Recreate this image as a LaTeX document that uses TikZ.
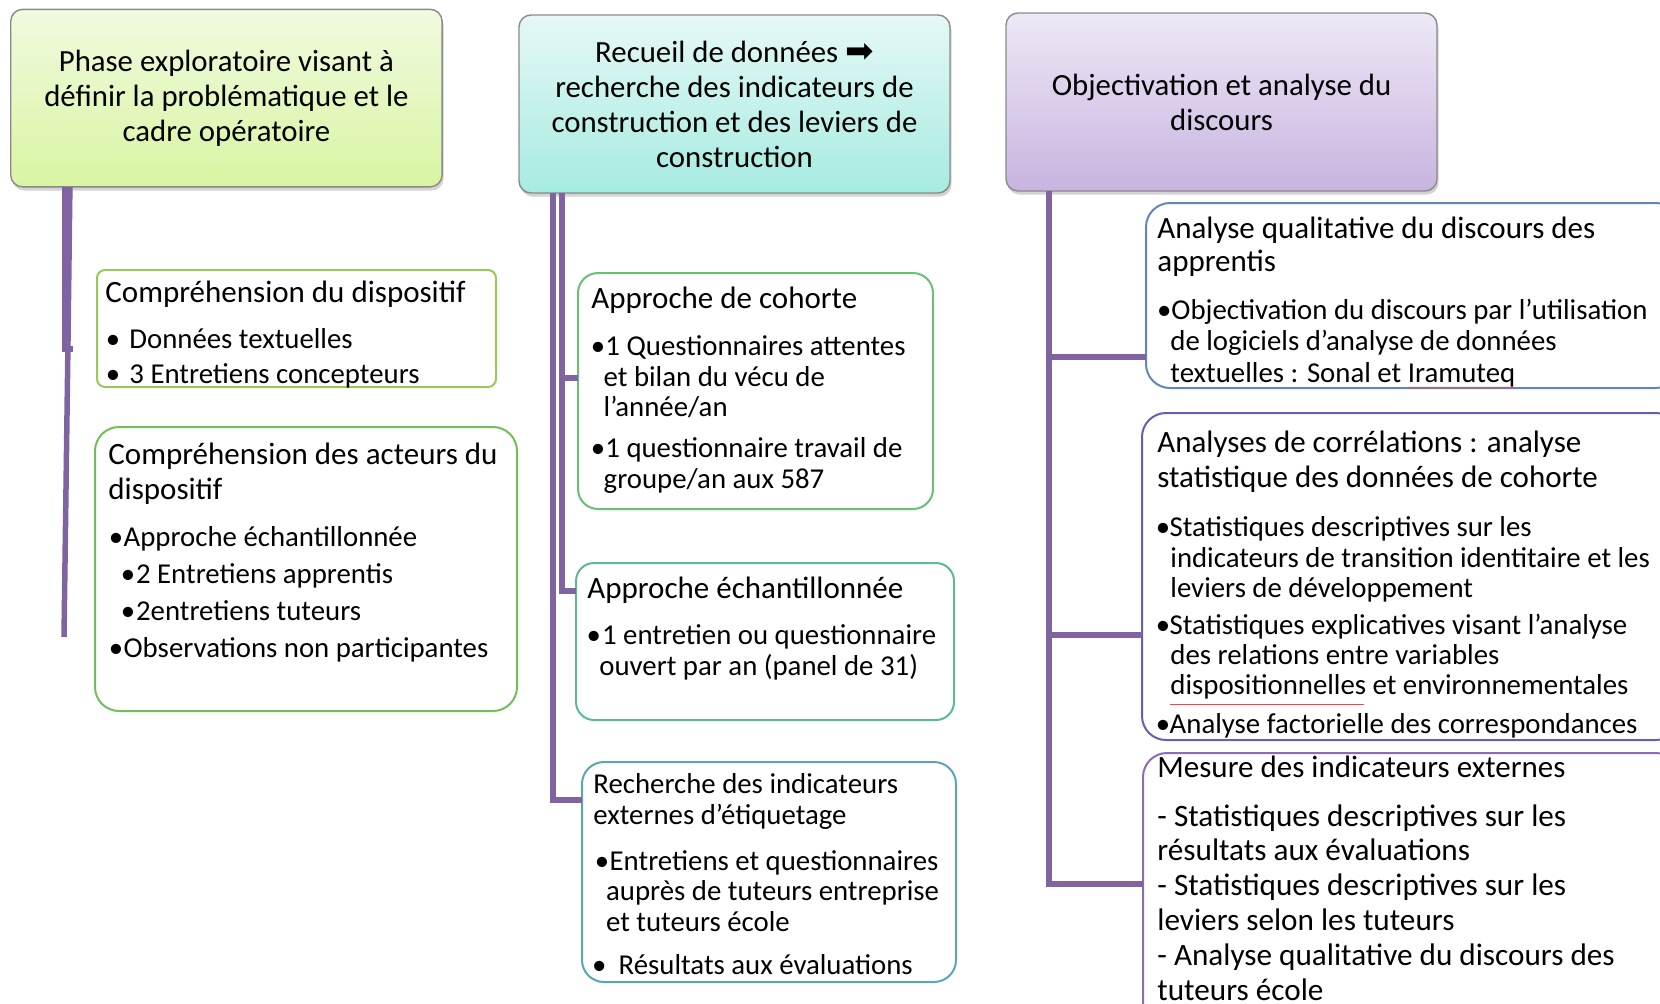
\documentclass[tikz,border=0pt]{standalone}
\usepackage{fontspec}
\setmainfont{Carlito}
\newfontfamily\symfont{DejaVu Sans}
\usetikzlibrary{shadows}

\definecolor{lienc}{HTML}{8064A2}
\definecolor{bordtete}{HTML}{8A8A8A}
\definecolor{vertA}{HTML}{9BC85A}
\definecolor{vertB}{HTML}{70BF5A}
\definecolor{vertC}{HTML}{6ABF74}
\definecolor{vertD}{HTML}{5CB89C}
\definecolor{bleuA}{HTML}{5AA7B2}
\definecolor{bleuB}{HTML}{6485BA}
\definecolor{violA}{HTML}{6A5DB0}
\definecolor{violB}{HTML}{8A6DB6}

\newcommand\puce[1]{\makebox[#1][l]{•}}

% les textes a plusieurs lignes sont poses sur la ligne de base de leur derniere ligne
\tikzset{
  tete/.style={draw=bordtete, line width=0.7pt, rounded corners=6pt,
    anchor=north west, inner sep=0pt, outer sep=0pt, align=center,
    font=\fontsize{15.4}{17.5}\selectfont,
    drop shadow={opacity=0.35, shadow xshift=0.8pt, shadow yshift=-1.8pt}},
  boite/.style={draw=#1, line width=1pt, fill=white, anchor=north west,
    inner sep=0pt, outer sep=0pt},
  titre/.style={anchor=base west, inner sep=0pt, align=left,
    font=\fontsize{15.5}{#1}\selectfont},
  titre/.default=17.5pt,
  corps/.style={anchor=base west, inner sep=0pt, align=left,
    font=\fontsize{14.4}{#1}\selectfont},
  corps/.default=15.2pt,
  lien/.style={draw=lienc, line width=2.75pt}
}

\begin{document}
\begin{tikzpicture}[x=0.5pt, y=-0.5pt]
  \useasboundingbox (0,0) rectangle (1660,1003);
  \clip (0,0) rectangle (1660,1003);

  % les trois etapes
  \node[tete, top color={rgb,255:red,241;green,250;blue,223}, bottom color={rgb,255:red,216;green,245;blue,162},
    minimum width=215.7pt, minimum height=88.8pt] (hdL) at (10.7,9.3)
    {Phase exploratoire visant à\\définir la problématique et le\\cadre opératoire};
  \node[tete, top color={rgb,255:red,229;green,248;blue,246}, bottom color={rgb,255:red,166;green,235;blue,225},
    minimum width=215.5pt, minimum height=89pt] (hdM) at (519,15)
    {Recueil de données {\symfont\fontsize{17}{17.5}\selectfont ➡}\\recherche des indicateurs de\\construction et des leviers de\\construction};
  \node[tete, top color={rgb,255:red,238;green,232;blue,246}, bottom color={rgb,255:red,200;green,180;blue,224},
    minimum width=215.5pt, minimum height=89pt] (hdR) at (1006,13)
    {Objectivation et analyse du\\discours};

  % colonne de gauche
  \node[boite=vertA, rounded corners=4pt, minimum width=199.5pt, minimum height=58.5pt] (l1) at (97,270) {};
  \node[titre] (l1t) at (105,302) {Compréhension du dispositif};
  \node[corps=17.6pt] (l1c) at (105.5,383.5)
    {\puce{11.75pt}Données textuelles\\\puce{11.75pt}3 Entretiens concepteurs};

  \node[boite=vertB, rounded corners=12pt, minimum width=211pt, minimum height=142pt] (l2) at (95,427) {};
  \node[titre] (l2t) at (108,499) {Compréhension des acteurs du\\dispositif};
  \node[corps=18.45pt] (l2c) at (108.5,657)
    {\puce{7.4pt}Approche échantillonnée\\
     \hspace*{6pt}\puce{7.6pt}2 Entretiens apprentis\\
     \hspace*{6pt}\puce{7.6pt}2entretiens tuteurs\\
     \puce{7.4pt}Observations non participantes};

  % colonne du milieu
  \node[boite=vertC, rounded corners=10pt, minimum width=177.5pt, minimum height=118pt] (m1) at (578,273) {};
  \node[titre] (m1t) at (591,308) {Approche de cohorte};
  \node[corps] (m1c) at (590.5,488)
    {\puce{7.25pt}1 Questionnaires attentes\\
     \hspace*{6.4pt}et bilan du vécu de\\
     \hspace*{6.4pt}l’année/an\\[5.3pt]
     \puce{7.25pt}1 questionnaire travail de\\
     \hspace*{6.4pt}groupe/an aux 587};

  \node[boite=vertD, rounded corners=9pt, minimum width=189pt, minimum height=78.5pt] (m2) at (576,563) {};
  \node[titre] (m2t) at (587,598) {Approche échantillonnée};
  \node[corps=15.5pt] (m2c) at (586.1,675)
    {\puce{7.8pt}1 entretien ou questionnaire\\\hspace*{6.45pt}ouvert par an (panel de 31)};

  \node[boite=bleuA, rounded corners=11pt, minimum width=187pt, minimum height=110pt] (m3) at (582,762) {};
  \node[titre, font=\fontsize{14.4}{15.35}\selectfont] (m3t) at (593,824) {Recherche des indicateurs\\externes d'étiquetage};
  \node[corps=15.4pt] (m3c) at (594.5,974)
    {\puce{7.4pt}Entretiens et questionnaires\\
     \hspace*{5.6pt}auprès de tuteurs entreprise\\
     \hspace*{5.6pt}et tuteurs école\\[5.75pt]
     \hspace*{-1.35pt}\puce{13.25pt}Résultats aux évaluations};

  % colonne de droite
  \node[boite=bleuB, rounded corners=12pt, minimum width=267pt, minimum height=92.5pt] (r1) at (1146,203) {};
  \node[titre=16.5pt] (r1t) at (1157,271) {Analyse qualitative du discours des\\apprentis};
  \node[corps=15.6pt] (r1c) at (1156.8,382)
    {\puce{7.1pt}Objectivation du discours par l’utilisation\\
     \hspace*{6.6pt}de logiciels d’analyse de données\\
     \hspace*{6.6pt}textuelles : Sonal et Iramuteq};

  \node[boite=violA, rounded corners=12pt, minimum width=269pt, minimum height=163.5pt] (r2) at (1142,413) {};
  \node[titre] (r2t) at (1157,487) {Analyses de corrélations : analyse\\statistique des données de cohorte};
  \node[corps=15.15pt] (r2c) at (1155.5,733)
    {\puce{6.9pt}Statistiques descriptives sur les\\
     \hspace*{7.25pt}indicateurs de transition identitaire et les\\
     \hspace*{7.25pt}leviers de développement\\[3.2pt]
     \puce{6.9pt}Statistiques explicatives visant l’analyse\\
     \hspace*{7.25pt}des relations entre variables\\
     \hspace*{7.25pt}dispositionnelles et environnementales\\[4pt]
     \puce{6.9pt}Analyse factorielle des correspondances};

  \node[boite=violB, rounded corners=12pt, minimum width=268.5pt, minimum height=138.5pt] (r3) at (1143,753) {};
  \node[titre] (r3t) at (1157,777) {Mesure des indicateurs externes};
  \node[corps, font=\fontsize{15.6}{17.4}\selectfont] (r3c) at (1157,1000)
    {- Statistiques descriptives sur les\\résultats aux évaluations\\
     - Statistiques descriptives sur les\\leviers selon les tuteurs\\
     - Analyse qualitative du discours des\\tuteurs école};

  % traits de correction
  \draw[red!75, line width=0.4pt] (1407,387) -- (1515,387);
  \draw[red!75, line width=0.4pt] (1170,704) -- (1364,704);

  % liens
  \coordinate (ltrunk) at ([xshift=27pt]hdL.south west);
  \coordinate (lend) at (64,637);
  \draw[lien] (ltrunk) -- ++(0,162) -- ++(8,0);
  \draw[lien] ([xshift=2.6pt]ltrunk) -- ++(-2,162) -- (lend);

  \coordinate (mtrunk) at ([xshift=21.5pt]hdM.south west);
  \coordinate (mtrunkb) at ([xshift=17pt]hdM.south west);
  \draw[lien] (mtrunk) |- ([yshift=-14pt]m2.north west);
  \draw[lien] ([yshift=6.5pt]m1.west) -| (mtrunk);
  \draw[lien] (mtrunkb) |- ([yshift=-19pt]m3.north west);

  \coordinate (rtrunk) at ([xshift=21.5pt]hdR.south west);
  \draw[lien] (rtrunk) |- ([yshift=-65.5pt]r3.north west);
  \draw[lien] ([yshift=-77pt]r1.north west) -| (rtrunk);
  \draw[lien] ([yshift=-111pt]r2.north west) -| (rtrunk);
\end{tikzpicture}
\end{document}
